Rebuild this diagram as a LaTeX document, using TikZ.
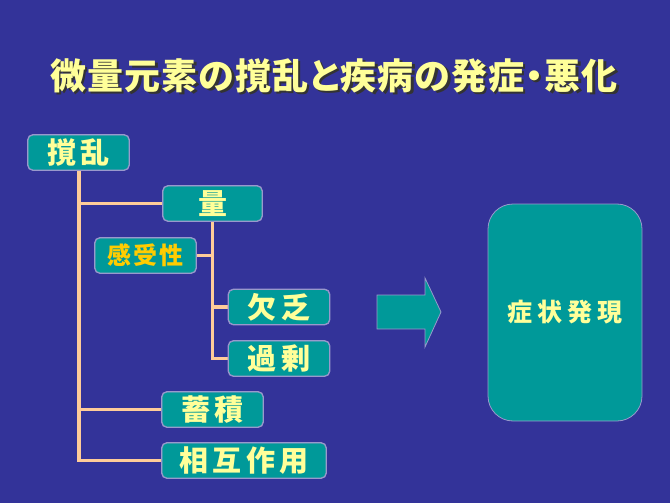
\documentclass[tikz,border=0pt]{standalone}
\usepackage{fontspec}
\newfontfamily\jp{Noto Sans CJK JP}
\newfontfamily\jpp[RawFeature=+palt]{Noto Sans CJK JP}
\definecolor{bg}{HTML}{333399}
\definecolor{teal2}{HTML}{009999}
\definecolor{txt}{HTML}{FFFF99}
\definecolor{gold}{HTML}{FFCC00}
\definecolor{peach}{HTML}{FFCC99}
\definecolor{edge}{HTML}{9999CC}
\tikzset{
  box/.style={draw=edge, line width=0.8pt, fill=teal2, rounded corners=5pt,
    minimum width=101pt, minimum height=35pt, inner sep=0pt,
    text=txt, font=\jp\bfseries\fontsize{29}{30}\selectfont\addfontfeature{LetterSpace=14}},
  link/.style={draw=peach, line width=3.2pt},
  ttl/.style={font=\jpp\bfseries\fontsize{36}{38}\selectfont\addfontfeature{LetterSpace=3}},
}
\begin{document}
\begin{tikzpicture}[x=1pt,y=-1pt]
\useasboundingbox (0,0) rectangle (670,503);
\fill[bg] (0,0) rectangle (670,503);
% title with shadow
\node[ttl, text=black!80] (titleshadow) at (336.5,78) {微量元素の撹乱と疾病の発症・悪化};
\node[ttl, text=txt] (title) at (334,75.5) {微量元素の撹乱と疾病の発症・悪化};
% boxes
\node[box] (kakuran) at (78.5,152.5) {撹乱};
\node[box, minimum width=99pt] (ryo) at (212.5,203.5) {量};
\node[box, font=\jp\bfseries\fontsize{24}{26}\selectfont\addfontfeature{LetterSpace=8}, text=gold] (kanju) at (145.5,255.5) {感受性};
\node[box] (ketsubo) at (279,307) {欠乏};
\node[box] (kajo) at (279,358.5) {過剰};
\node[box] (chikuseki) at (212.5,409.5) {蓄積};
\node[box, minimum width=164pt] (sogo) at (244,460.5) {相互作用};
\node[box, minimum width=154pt, minimum height=217pt, rounded corners=25pt,
  font=\jp\bfseries\fontsize{25}{27}\selectfont\addfontfeature{LetterSpace=20}] (shojo) at (565,312.5) {症状発現};
% connectors
\coordinate (v1) at (79,152.5);
\draw[link] (kakuran.south -| v1) -- (v1 |- sogo.west) -- (sogo.west);
\draw[link] (v1 |- ryo.west) -- (ryo.west);
\draw[link] (v1 |- chikuseki.west) -- (chikuseki.west);
\coordinate (v2) at (212.5,203.5);
\draw[link] (ryo.south) -- (v2 |- kajo.west) -- (kajo.west);
\draw[link] (v2 |- kanju.east) -- (kanju.east);
\draw[link] (v2 |- ketsubo.west) -- (ketsubo.west);
% redraw box borders above link ends
\foreach \n in {kakuran,ryo,kanju,ketsubo,kajo,chikuseki,sogo}{
  \draw[edge, line width=0.8pt, rounded corners=5pt] (\n.north west) rectangle (\n.south east);
}
% big arrow
\filldraw[fill=teal2, draw=edge, line width=0.8pt]
  (377,295) -- (425,295) -- (425,278) -- (441,312) -- (425,347) -- (425,329) -- (377,329) -- cycle;
\end{tikzpicture}
\end{document}
